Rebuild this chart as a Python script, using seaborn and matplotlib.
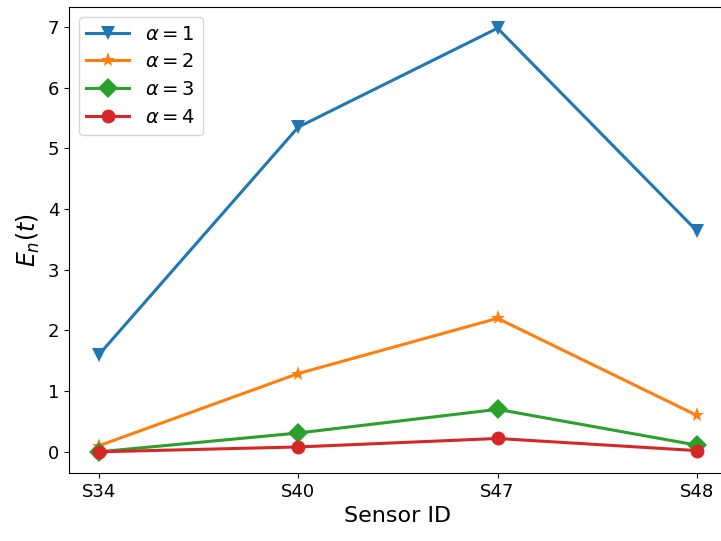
import numpy as np
import pandas as pd
import matplotlib
matplotlib.use("Agg")
import matplotlib.pyplot as plt
import seaborn as sns

sensors = ["S34", "S40", "S47", "S48"]
alpha_labels = [r"$\alpha=1$", r"$\alpha=2$", r"$\alpha=3$", r"$\alpha=4$"]
en_alpha1 = [1.60, 5.35, 6.98, 3.64]
en_alpha2 = [0.10, 1.29, 2.20, 0.60]
en_alpha3 = [0.00, 0.31, 0.70, 0.11]
en_alpha4 = [0.00, 0.08, 0.22, 0.02]

series = [en_alpha1, en_alpha2, en_alpha3, en_alpha4]
df = pd.DataFrame({
    "sensor": np.tile(sensors, len(series)),
    "alpha": np.repeat(alpha_labels, len(sensors)),
    "en": np.concatenate(series),
})

colors = ["#1f77b4", "#ff7f0e", "#2ca02c", "#d62728"]
markers = ["v", "*", "D", "o"]
msizes = [10, 11, 10, 10]

fig = plt.figure(figsize=(7.21, 5.41), dpi=100)
# the original is cropped on the right, so the axes run past the figure edge
ax = fig.add_axes([0.0957, 0.1257, 0.9123, 0.8613])

sns.lineplot(
    data=df, x="sensor", y="en", hue="alpha", style="alpha",
    palette=dict(zip(alpha_labels, colors)),
    markers=dict(zip(alpha_labels, markers)),
    dashes=False, linewidth=2.2, markersize=10, markeredgewidth=0,
    sort=False, ax=ax, legend=False,
)

# star looks larger in the original
for line, ms, lab in zip(ax.lines, msizes, alpha_labels):
    line.set_markersize(ms)
    line.set_label(lab)

ax.spines["right"].set_visible(False)
ax.set_xlabel("Sensor ID", fontsize=16)
ax.set_ylabel(r"$E_n(t)$", fontsize=17)
ax.tick_params(labelsize=13)
ax.set_yticks(range(0, 8))
ax.margins(x=0.05, y=0.05)

ax.legend(handles=ax.lines[:4], loc="upper left", fontsize=14,
          handlelength=2.2, labelspacing=0.45)

fig.savefig("out.png", dpi=100)
